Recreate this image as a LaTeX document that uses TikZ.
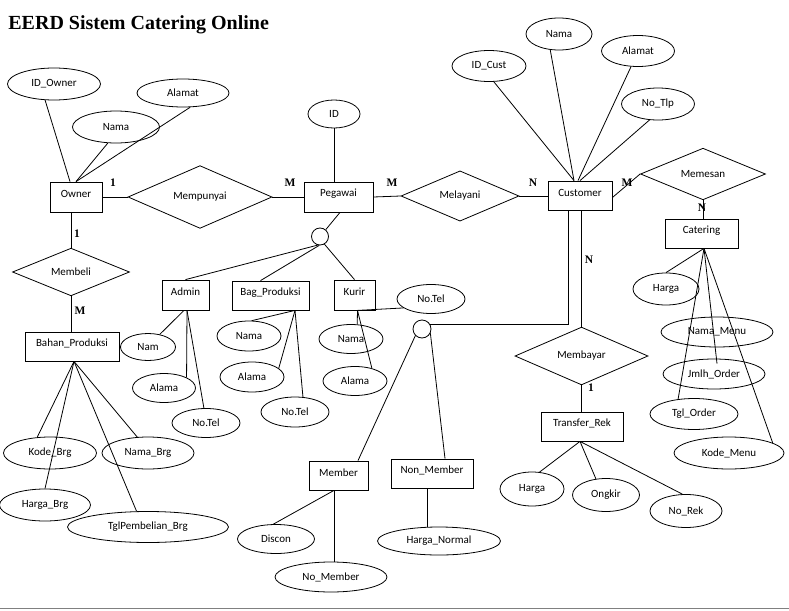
\documentclass[tikz,border=0pt]{standalone}
\usepackage{fontspec}
\setmainfont{Carlito}
\newfontfamily\serifb{Liberation Serif}
\usetikzlibrary{shapes.geometric}
\newcommand\up[1]{\raisebox{3pt}[\height][\depth]{#1}}
\begin{document}
\begin{tikzpicture}[x=1pt,y=-1pt,
  line width=0.8pt,
  every node/.style={font=\fontsize{11}{12}\selectfont},
  ent/.style 2 args={draw, rectangle, inner sep=0pt, minimum width=#1, minimum height=#2},
  rel/.style 2 args={draw, diamond, inner sep=0pt, minimum width=#1, minimum height=#2},
  att/.style 2 args={draw, ellipse, inner sep=0pt, minimum width=#1, minimum height=#2},
  isa/.style={draw, circle, inner sep=0pt, minimum size=#1},
  card/.style={font=\serifb\bfseries\fontsize{11.5}{12}\selectfont, inner sep=0pt},
  ttl/.style={font=\serifb\bfseries\fontsize{20}{24}\selectfont, inner sep=0pt, anchor=base west}]
\useasboundingbox (0,0) rectangle (789,610);
\draw[gray, line width=1.5pt] (0,608.5) -- (789,608.5);
\node[ttl] (title) at (8,30) {EERD Sistem Catering Online};

% entities
\node[ent={52}{30}] (owner) at (76,197) {\up{Owner}};
\node[ent={69}{30}] (pegawai) at (338.5,197) {\up{Pegawai}};
\node[ent={64}{29}] (customer) at (580,195.5) {\up{Customer}};
\node[ent={73}{29}] (catering) at (701.5,233.5) {\up{Catering}};
\node[ent={94}{29}] (bahan) at (72,346.5) {\up{Bahan\_Produksi}};
\node[ent={47}{30}] (admin) at (185.5,295) {\up{Admin}};
\node[ent={77}{29}] (bag) at (270.5,295.5) {\up{Bag\_Produksi}};
\node[ent={41}{30}] (kurir) at (354.5,295) {\up{Kurir}};
\node[ent={82}{29}] (transfer) at (582,426.5) {\up{Transfer\_Rek}};
\node[ent={59}{29}] (member) at (338.5,475.5) {\up{Member}};
\node[ent={82}{29}] (nonmember) at (432,473.5) {\up{Non\_Member}};

% relationships
\node[rel={144}{46}] (mempunyai) at (200,197) {Mempunyai};
\node[rel={118}{46}] (melayani) at (460,196) {Melayani};
\node[rel={125}{45}] (memesan) at (703,174) {Memesan};
\node[rel={117}{47}] (membeli) at (71,272) {Membeli};
\node[rel={133}{48}] (membayar) at (581.5,356) {Membayar};

% ISA circles
\node[isa=17] (isa1) at (320,236.5) {};
\node[isa=18] (isa2) at (422,329) {};

% attributes
\node[att={93}{32}] (idowner) at (54,84) {ID\_Owner};
\node[att={92}{28}] (alamat1) at (183,93) {Alamat};
\node[att={87}{32}] (nama1) at (116,127) {Nama};
\node[att={52}{28}] (idp) at (334,114) {ID};
\node[att={74}{31}] (idcust) at (489,66) {ID\_Cust};
\node[att={66}{32}] (nama4) at (559,34) {Nama};
\node[att={73}{31}] (alamat4) at (638,51) {Alamat};
\node[att={73}{32}] (notlp) at (658,104) {No\_Tlp};
\node[att={55}{27}] (nam) at (148,347) {Nam};
\node[att={63}{29}] (alamaA) at (164,388) {Alama};
\node[att={68}{29}] (notelA) at (206,423) {No.Tel};
\node[att={64}{30}] (nama2) at (249,336) {Nama};
\node[att={64}{30}] (alama2) at (252,377) {Alama};
\node[att={68}{30}] (notel2) at (295,412) {No.Tel};
\node[att={64}{29}] (nama3) at (351,339) {Nama};
\node[att={64}{29}] (alama3) at (355,381) {Alama};
\node[att={68}{29}] (notel3) at (431,299) {No.Tel};
\node[att={66}{32}] (harga5) at (666,289) {Harga};
\node[att={112}{30}] (namamenu) at (717,332) {Nama\_Menu};
\node[att={102}{30}] (jmlh) at (714,374) {Jmlh\_Order};
\node[att={88}{31}] (tgl) at (694,414) {Tgl\_Order};
\node[att={110}{32}] (kode) at (729,453) {Kode\_Menu};
\node[att={64}{34}] (harga6) at (532,489) {Harga};
\node[att={67}{33}] (ongkir) at (606,495) {Ongkir};
\node[att={72}{33}] (norek) at (686,511) {No\_Rek};
\node[att={77}{29}] (discon) at (276,539) {Discon};
\node[att={112}{30}] (nomember) at (331,577) {No\_Member};
\node[att={123}{28}] (hargan) at (439,541) {Harga\_Normal};
\node[att={93}{32}] (kodebrg) at (50,453) {Kode\_Brg};
\node[att={92}{32}] (namabrg) at (148,453) {Nama\_Brg};
\node[att={91}{32}] (hargabrg) at (45,505) {Harga\_Brg};
\node[att={161}{31}] (tglbrg) at (148,527) {TglPembelian\_Brg};

% cardinalities
\node[card] (c1) at (113,183) {1};
\node[card] (c2) at (290,183) {M};
\node[card] (c3) at (392,183) {M};
\node[card] (c4) at (533,183) {N};
\node[card] (c5) at (627,183) {M};
\node[card] (c6) at (702,208) {N};
\node[card] (c7) at (77,234) {1};
\node[card] (c8) at (80,311) {M};
\node[card] (c9) at (589,260) {N};
\node[card] (c10) at (591,388) {1};

% relationship connectors
\draw (owner.east) -- (mempunyai.west);
\draw (mempunyai.east) -- (pegawai.west);
\draw (pegawai.east) -- (melayani.west);
\draw (melayani.east) -- (melayani.east -| customer.west);
\draw ([yshift=-2pt]customer.east) -- (memesan.west);
\draw (memesan.south) -- (memesan.south |- catering.north);
\draw (membeli.north |- owner.south) -- (membeli.north);
\draw (membeli.south) -- (membeli.south |- bahan.north);
\draw ([xshift=-12pt]customer.south) |- (isa2.30);
\draw (membayar.north |- customer.south) -- (membayar.north);
\draw (membayar.south) -- (membayar.south |- transfer.north);

% ISA connectors
\draw ([xshift=1.5pt]pegawai.south) -- (isa1.50);
\draw (isa1.255) -- (admin.north);
\draw (isa1.265) -- ([xshift=-10pt]bag.north);
\draw (isa1.300) -- (kurir.north);
\draw (isa2.225) -- ([xshift=19.5pt]member.north);
\draw (isa2.333) -- ([xshift=13pt]nonmember.north);

% attribute connectors
\draw ([xshift=-6pt]owner.north) -- (idowner.241);
\draw (owner.north) -- (nama1.243);
\draw (owner.north) -- (alamat1.297);
\draw (idp.south) -- (idp.south |- pegawai.north);
\draw ([xshift=-6pt]customer.north) -- (idcust.287);
\draw ([xshift=-6pt]customer.north) -- (nama4.241);
\draw ([xshift=-2pt]customer.north) -- (alamat4.246);
\draw (customer.north) -- (notlp.242);
\draw ([xshift=-1.5pt]admin.south) -- (nam.47);
\draw ([xshift=1.5pt]admin.south) -- (alamaA.north east);
\draw ([xshift=1.5pt]admin.south) -- (notelA.98);
\draw ([xshift=24.5pt]bag.south) -- (nama2.80);
\draw ([xshift=24.5pt]bag.south) -- (alama2.18);
\draw ([xshift=24.5pt]bag.south) -- (notel2.62);
\draw ([xshift=3pt]kurir.south) -- (nama3.67);
\draw ([xshift=3pt]kurir.south) -- (alama3.37);
\draw ([xshift=3pt]kurir.south) -- (notel3.198);
\draw ([xshift=2.5pt]catering.south) -- (harga5.north);
\draw ([xshift=2.5pt]catering.south) -- (tgl.137);
\draw ([xshift=2.5pt]catering.south) -- ([xshift=3pt,yshift=-5pt]jmlh.north);
\draw ([xshift=2.5pt]catering.south) -- (kode.13);
\draw ([xshift=-2pt]transfer.south) -- (harga6.66);
\draw ([xshift=-2pt]transfer.south) -- (ongkir.122);
\draw ([xshift=-2pt]transfer.south) -- (norek.102);
\draw ([xshift=-4.5pt]member.south) -- (discon.100);
\draw ([xshift=-4.5pt]member.south) -- ([xshift=-4.5pt]member.south |- nomember.north);
\draw ([xshift=-5pt]nonmember.south) -- ([xshift=-5pt]nonmember.south |- hargan.north);
\draw ([xshift=2pt]bahan.south) -- (kodebrg.129);
\draw ([xshift=2pt]bahan.south) -- (namabrg.124);
\draw ([xshift=2pt]bahan.south) -- (hargabrg.north);
\draw ([xshift=2pt]bahan.south) -- (tglbrg.126);
\end{tikzpicture}
\end{document}
